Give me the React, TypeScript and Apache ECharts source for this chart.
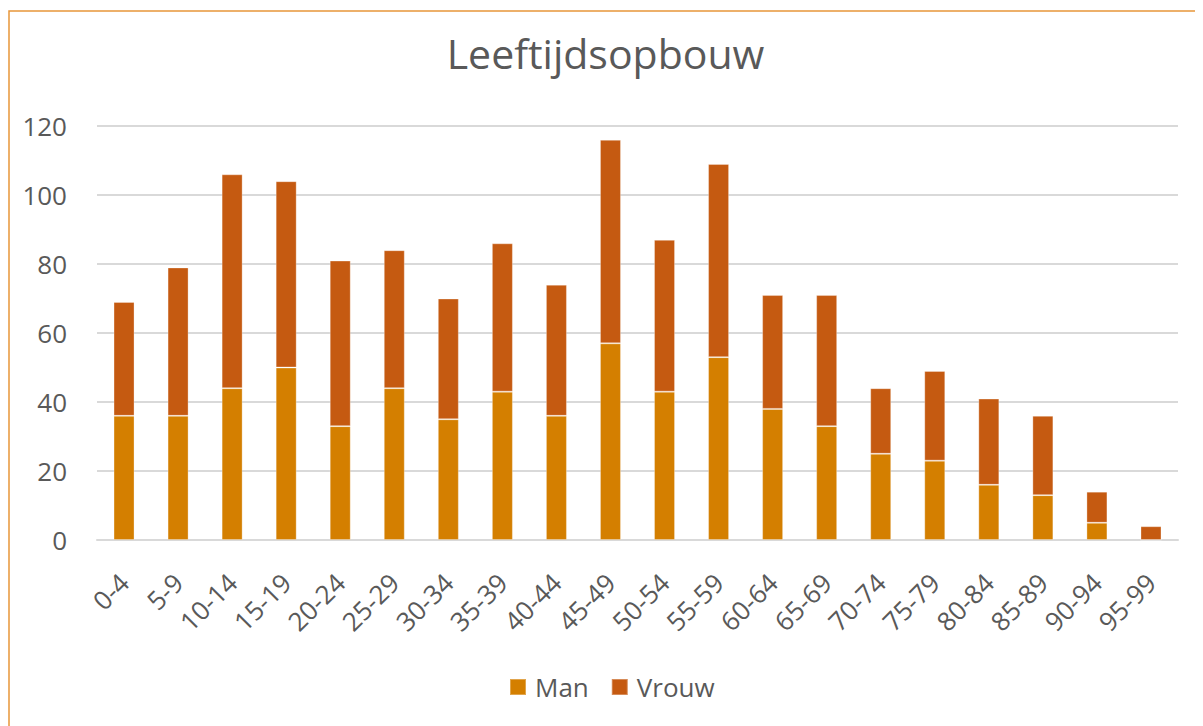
import React, { useEffect, useRef } from "react";
import * as echarts from "echarts";

const categories = ["0-4","5-9","10-14","15-19","20-24","25-29","30-34","35-39","40-44","45-49","50-54","55-59","60-64","65-69","70-74","75-79","80-84","85-89","90-94","95-99"];
const manValues = [36,36,44,50,33,44,35,43,36,57,43,53,38,33,25,23,16,13,5,0];
const vrouwValues = [33,43,62,54,48,40,35,43,38,59,44,56,33,38,19,26,25,23,9,4];
const yTicks = [0, 20, 40, 60, 80, 100, 120];

const FONT = "'Open Sans', sans-serif";
const TEXT = "#595959";

export default function App() {
  const ref = useRef<HTMLDivElement>(null);
  useEffect(() => {
    if (!ref.current) return;
    const chart = echarts.init(ref.current, undefined, { renderer: "svg" });
    chart.setOption({
      animation: false,
      backgroundColor: "#ffffff",
      textStyle: { fontFamily: FONT },
      title: {
        text: "Leeftijdsopbouw",
        left: "center",
        top: 19,
        textStyle: { fontFamily: FONT, fontSize: 41, fontWeight: "normal", color: TEXT },
      },
      legend: {
        data: ["Man", "Vrouw"],
        left: 496,
        top: 661,
        itemWidth: 16,
        itemHeight: 16,
        itemGap: 22,
        icon: "rect",
        textStyle: { fontFamily: FONT, fontSize: 26, color: TEXT, padding: [0, 0, 0, 4] },
      },
      grid: { left: 89, right: 25, top: 118, bottom: 186, containLabel: false },
      xAxis: {
        type: "category",
        data: categories,
        axisLine: { show: true, lineStyle: { color: "#D9D9D9", width: 2 } },
        axisTick: { show: false },
        axisLabel: { rotate: 45, margin: 38, fontFamily: FONT, fontSize: 26, color: TEXT, interval: 0 },
      },
      yAxis: {
        type: "value",
        min: yTicks[0],
        max: yTicks[yTicks.length - 1],
        interval: 20,
        axisLine: { show: false },
        axisTick: { show: false },
        splitLine: { lineStyle: { color: "#D9D9D9", width: 2 } },
        axisLabel: { margin: 30, fontFamily: FONT, fontSize: 26, color: TEXT },
      },
      graphic: [
        {
          type: "rect",
          shape: { x: 1, y: 3, width: 3000, height: 3000 },
          style: { fill: "none", stroke: "#E8963A", lineWidth: 1.5 },
          silent: true,
          z: 100,
        },
      ],
      series: [
        {
          name: "Man",
          type: "bar",
          stack: "total",
          data: manValues,
          barWidth: 21,
          itemStyle: { color: "#D47F00", borderColor: "rgba(255,255,255,0.3)", borderWidth: 1 },
        },
        {
          name: "Vrouw",
          type: "bar",
          stack: "total",
          data: vrouwValues,
          barWidth: 21,
          itemStyle: { color: "#C55A11", borderColor: "rgba(255,255,255,0.3)", borderWidth: 1 },
        },
      ],
    });
    return () => chart.dispose();
  }, []);
  return <div ref={ref} style={{ width: 1195, height: 718 }} />;
}
